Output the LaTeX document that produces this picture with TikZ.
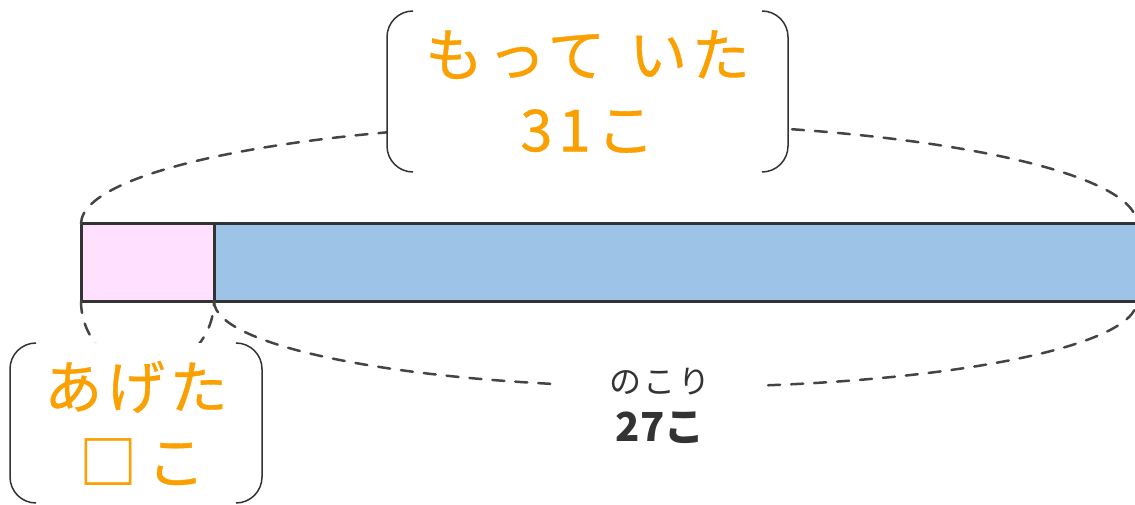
\documentclass[tikz,border=0pt]{standalone}
\usepackage{fontspec}
\newfontfamily\cjk{Noto Sans CJK JP}
\newfontfamily\cjkwide[LetterSpace=8]{Noto Sans CJK JP}
\newfontfamily\cjkwideheavy[LetterSpace=8,FakeBold=0.6]{Noto Sans CJK JP}
\definecolor{lblorange}{RGB}{250,160,0}
\definecolor{edge}{RGB}{51,51,51}
\definecolor{dashc}{RGB}{68,68,68}
\definecolor{pinkfill}{RGB}{255,224,255}
\definecolor{bluefill}{RGB}{157,195,230}
\begin{document}
\begin{tikzpicture}[x=1pt,y=1pt,
  barpart/.style={draw=edge, line width=3pt, inner sep=0pt, outer sep=0pt, minimum height=77pt, anchor=north west},
  span/.style={draw=dashc, line width=2.5pt, line cap=round, dash pattern=on 12pt off 11pt},
  bracket/.style={draw=edge, line width=1.5pt},
  labelbox/.style={fill=white, inner sep=0pt, outer sep=0pt, align=center, text=lblorange, font=\cjkwideheavy\fontsize{58}{75}\selectfont},
  ]
\useasboundingbox (0,0) rectangle (1135,-505);
% bar
\node[barpart, fill=pinkfill, minimum width=133pt] (given) at (81,-224) {};
\node[barpart, fill=bluefill, minimum width=923pt] (rest) at (214,-224) {};
% spans
\draw[span] (given.north west) arc[start angle=180, end angle=0, x radius=528, y radius=101];
\draw[span] (rest.south west) arc[start angle=180, end angle=360, x radius=461.5, y radius=86];
\draw[span] (given.south west) arc[start angle=180, end angle=360, x radius=66.5, y radius=68];
% labels
\node[labelbox, minimum width=401pt, minimum height=161pt] (had) at (587.5,-91.5) {もって\hspace{6pt} いた\\3\hspace{6pt}1\hspace{6pt}こ};
\node[labelbox, minimum width=252pt, minimum height=160pt] (gave) at (136,-423) {あげた\\\hspace{12pt}□\hspace{10pt}こ};
\foreach \b in {had,gave}{
  \draw[bracket] ([xshift=26pt]\b.north west) arc[start angle=90,end angle=180,radius=26pt] -- ([yshift=26pt]\b.south west) arc[start angle=180,end angle=270,radius=26pt];
  \draw[bracket] ([xshift=-26pt]\b.north east) arc[start angle=90,end angle=0,radius=26pt] -- ([yshift=26pt]\b.south east) arc[start angle=0,end angle=-90,radius=26pt];
}
\node[fill=white, inner sep=0pt, minimum width=200pt, minimum height=36pt, text=edge, font=\cjkwide\fontsize{32}{32}\selectfont] (restlabel) at (660,-382) {のこり};
\node[inner sep=0pt, text=edge, font=\cjk\bfseries\fontsize{40}{40}\selectfont] (restcount) at (660,-428) {27こ};
\end{tikzpicture}
\end{document}
